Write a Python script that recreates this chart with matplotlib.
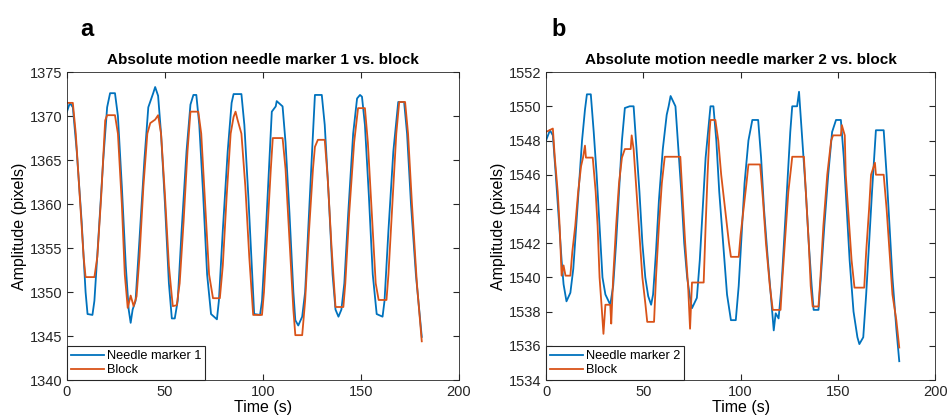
import matplotlib.pyplot as plt

plt.rcParams['font.family'] = ['Liberation Sans', 'DejaVu Sans']

# panel a: needle marker 1 vs block
t_n1 = [0, 1.5, 3, 5, 7.5, 9.5, 10.5, 13, 14, 16, 18.5, 20.5, 22, 24.5, 26, 28, 30, 31.5, 32.5, 33.5,
        35, 37, 39.5, 41.5, 44, 45, 46.5, 48, 50, 52, 53.5, 55, 56.5, 58.5, 61, 63, 64.5, 66, 67.5,
        69.5, 71.5, 73.5, 76.5, 77.5, 79.5, 82, 84, 85, 89, 90.5, 92.5, 94.5, 95.5, 98.5, 99.5, 101.5,
        103.5, 104.5, 106.5, 107, 110, 111.5, 113.5, 115.5, 116.5, 118, 120, 121.5, 123.5, 125.5,
        126.5, 130, 131.5, 133.5, 135.5, 137, 138.5, 140, 141.5, 143.5, 146, 148, 149.5, 150.5, 152,
        154, 156, 158, 161, 162, 164, 166.5, 169, 172, 173.5, 175.5, 178, 181]
v_n1 = [1370.5, 1371.5, 1371.0, 1366, 1358, 1350, 1347.5, 1347.4, 1349, 1356, 1365, 1371, 1372.6,
        1372.6, 1370, 1362, 1353, 1348, 1346.5, 1348, 1349, 1356, 1365, 1371, 1372.6, 1373.3, 1372.3,
        1368, 1360, 1351, 1347, 1347, 1349, 1357, 1366, 1371.3, 1372.4, 1372.4, 1369, 1361, 1352,
        1347.5, 1346.9, 1349, 1357, 1366, 1371.5, 1372.5, 1372.5, 1369, 1361, 1352, 1347.5, 1347.4,
        1349, 1357, 1366, 1370.5, 1371.1, 1371.7, 1371.1, 1367, 1359, 1350, 1346.8, 1346.2, 1347.2,
        1350, 1359, 1368, 1372.4, 1372.4, 1369, 1361, 1352, 1348, 1347.2, 1348, 1351, 1359, 1368,
        1372, 1372.4, 1372.2, 1369, 1361, 1352, 1347.5, 1347.2, 1349, 1357, 1366, 1371.6, 1371.6,
        1368, 1360, 1352, 1344.9]

t_b1 = [0, 3, 4.5, 6.5, 8.5, 9.5, 14, 15.5, 17.5, 19.5, 20.5, 24.5, 26, 28, 29.5, 31, 32.5, 34, 35.5,
        37, 39, 41, 42.5, 45, 46.5, 48, 50, 52, 53.5, 54, 56, 57.5, 59.5, 61.5, 63, 67, 68.5, 70.5,
        72.5, 74.5, 78, 79.5, 81.5, 83.5, 85, 86, 87, 89, 91, 93, 95, 99.5, 100.5, 102.5, 104, 105,
        110, 111.5, 113.5, 115.5, 116.5, 120, 121.5, 123.5, 125.5, 126.5, 128, 131.5, 133, 135, 137,
        141, 142, 144, 146.5, 148.5, 152, 153.5, 155.5, 157.5, 159, 163, 164, 166, 168, 169.5, 172.5,
        174, 176, 178.5, 181]
v_b1 = [1371.5, 1371.5, 1368, 1361, 1354, 1351.7, 1351.7, 1354, 1361, 1369.5, 1370.1, 1370.1, 1368,
        1360, 1352, 1348.2, 1349.6, 1348.4, 1349.5, 1354, 1362, 1368, 1369.2, 1369.6, 1370.1, 1368,
        1361, 1353, 1349.5, 1348.4, 1348.5, 1351, 1358, 1366, 1370.5, 1370.5, 1368, 1360, 1352,
        1349.3, 1349.3, 1353, 1361, 1368, 1369.9, 1370.5, 1369.6, 1368, 1362, 1354, 1347.4, 1347.4,
        1350, 1358, 1364, 1367.5, 1367.5, 1364, 1356, 1348, 1345.1, 1345.1, 1349, 1357, 1364,
        1366.5, 1367.3, 1367.3, 1363, 1355, 1348.3, 1348.3, 1351, 1359, 1367, 1370.9, 1370.9, 1367,
        1359, 1351, 1349.1, 1349.1, 1352, 1360, 1368, 1371.6, 1371.6, 1368, 1360, 1351, 1344.4]

# panel b: needle marker 2 vs block
t_n2 = [0, 2, 3.5, 5, 6.5, 8, 9, 10.5, 12.5, 14, 15.5, 17, 18.5, 20, 21, 23, 24.5, 26, 27.5, 29, 30.5,
        33, 34.5, 36, 37.5, 39, 40.5, 43, 45, 46.5, 48, 49.5, 51, 52.5, 54, 55, 56.5, 58, 60, 62, 63,
        64, 66.5, 68, 69.5, 71, 72.5, 74, 75, 77.5, 79, 80.5, 82, 84, 84.5, 86, 87.5, 89, 91, 93, 95,
        97.5, 99, 100.5, 102, 104, 106, 109, 110.5, 112, 114, 116, 117, 118, 119.5, 121, 122.5, 124,
        125.5, 126.5, 129, 130, 130.5, 132, 133.5, 135, 136.5, 137.5, 140, 141.5, 143, 145, 147, 149,
        151.5, 153, 154.5, 156, 158, 160, 161, 163, 164.5, 166, 167.5, 169.5, 173.5, 175, 176.5, 178,
        180, 181.5]
v_n2 = [1548.0, 1548.6, 1548.3, 1546, 1543.5, 1541, 1539.6, 1538.6, 1539.1, 1540.5, 1543, 1545.5,
        1548, 1549.8, 1550.7, 1550.7, 1548.5, 1546, 1543, 1540, 1539.0, 1538.4, 1539.5, 1542, 1545,
        1548, 1549.9, 1550.0, 1550.0, 1547.5, 1545, 1542, 1540, 1538.9, 1538.4, 1539, 1541.5, 1544.5,
        1547.5, 1549.5, 1550.0, 1550.6, 1550.0, 1547.5, 1545, 1542, 1540, 1538.8, 1538.2, 1538.8,
        1541, 1544, 1547, 1549.4, 1550.0, 1550.0, 1548, 1545, 1542, 1539, 1537.5, 1537.5, 1539.5,
        1542.5, 1545.5, 1548, 1549.2, 1549.2, 1547, 1544, 1541, 1538.3, 1536.9, 1537.9, 1537.6,
        1539.5, 1542.5, 1545.5, 1548.5, 1550.0, 1550.0, 1550.85, 1550.0, 1547.5, 1545, 1542, 1539.5,
        1538.1, 1538.1, 1540.5, 1543, 1546, 1548.5, 1549.2, 1549.2, 1547, 1544, 1541, 1538, 1536.5,
        1536.1, 1536.5, 1539, 1542, 1545, 1548.6, 1548.6, 1546, 1543, 1540, 1537, 1535.1]

t_b2 = [0, 3.5, 4.5, 6, 7, 8, 9, 10, 12.5, 13.5, 15, 16.5, 18, 19, 20, 20.5, 24, 25.5, 26.5, 27.5,
        28.5, 29.5, 30.5, 33, 33.5, 34.5, 36, 37.5, 39, 40.5, 43.5, 44, 45, 46.5, 48, 49.5, 51, 52,
        55.5, 56.5, 58, 59.5, 61, 69, 70, 71.5, 73, 74, 75, 81, 82, 83, 84, 84.5, 87, 88.5, 90, 92,
        94, 95, 99, 100, 101.5, 103, 104, 110, 111.5, 113, 115, 116.5, 120.5, 121.5, 123, 124.5, 126,
        126.5, 132.5, 133.5, 135, 136, 137, 140, 141, 142.5, 144.5, 146.5, 147.5, 151.5, 152, 153.5,
        154, 155.5, 157, 158.5, 163.5, 164.5, 166, 167, 169, 169.5, 173.5, 175, 176.5, 178, 180, 181.5]
v_b2 = [1548.5, 1548.7, 1547, 1545, 1543, 1540.1, 1540.7, 1540.1, 1540.1, 1541.5, 1543, 1545,
        1546.5, 1547.0, 1547.7, 1547.0, 1547.0, 1545, 1543, 1540, 1538.4, 1536.7, 1538.4, 1538.4,
        1537.3, 1540, 1543, 1545.5, 1547, 1547.5, 1547.5, 1548.3, 1547.5, 1545, 1542.5, 1540, 1538.5,
        1537.4, 1537.4, 1540, 1543, 1545.5, 1547.05, 1547.05, 1545, 1542, 1539.5, 1537.0, 1539.7,
        1539.7, 1543, 1546, 1548.5, 1549.2, 1549.2, 1548, 1546, 1544, 1542, 1541.2, 1541.2, 1542.5,
        1544, 1545.5, 1546.6, 1546.6, 1544.5, 1542, 1539.5, 1538.1, 1538.1, 1540, 1542.5, 1545,
        1546.5, 1547.05, 1547.05, 1545, 1542, 1539.5, 1538.3, 1538.3, 1540, 1543, 1546, 1548, 1548.3,
        1548.3, 1548.9, 1548.3, 1546, 1543.5, 1541, 1539.4, 1539.4, 1541.5, 1544, 1546.0, 1546.7,
        1546.0, 1546.0, 1544, 1541.5, 1539, 1537.5, 1535.9]

blue = '#0072BD'
orange = '#D95319'

fig = plt.figure(figsize=(9.47, 4.19), dpi=100)
ax1 = fig.add_axes([0.0707, 0.093, 0.414, 0.735])
ax2 = fig.add_axes([0.5766, 0.093, 0.411, 0.735])

panels = [
    (ax1, t_n1, v_n1, t_b1, v_b1, 'Needle marker 1', 'Absolute motion needle marker 1 vs. block',
     (1340, 1375), range(1340, 1376, 5), 'a', 0.085),
    (ax2, t_n2, v_n2, t_b2, v_b2, 'Needle marker 2', 'Absolute motion needle marker 2 vs. block',
     (1534, 1552), range(1534, 1553, 2), 'b', 0.582),
]

for ax, tn, vn, tb, vb, lab, title, ylim, yticks, letter, lx in panels:
    ax.plot(tn, vn, color=blue, lw=1.3, label=lab)
    ax.plot(tb, vb, color=orange, lw=1.3, label='Block')
    ax.set_xlim(0, 200)
    ax.set_ylim(*ylim)
    ax.set_xticks([0, 50, 100, 150, 200])
    ax.set_yticks(list(yticks))
    ax.tick_params(direction='in', top=True, right=True, labelsize=10.5, colors='#262626', length=4)
    for s in ax.spines.values():
        s.set_color('#262626')
        s.set_linewidth(0.6)
    ax.set_title(title, fontsize=11, fontweight='bold', pad=6)
    ax.set_xlabel('Time (s)', fontsize=11.5, labelpad=1)
    ax.set_ylabel('Amplitude (pixels)', fontsize=11.5, labelpad=2)
    leg = ax.legend(loc='lower left', bbox_to_anchor=(0, 0), borderaxespad=0, fontsize=9.2,
                    fancybox=False, framealpha=1, edgecolor='#262626', handlelength=2.6,
                    borderpad=0.3, labelspacing=0.15, handletextpad=0.2)
    leg.get_frame().set_linewidth(0.8)
    fig.text(lx, 0.93, letter, fontsize=17, fontweight='bold', va='center')

fig.savefig('out.png', dpi=100)
